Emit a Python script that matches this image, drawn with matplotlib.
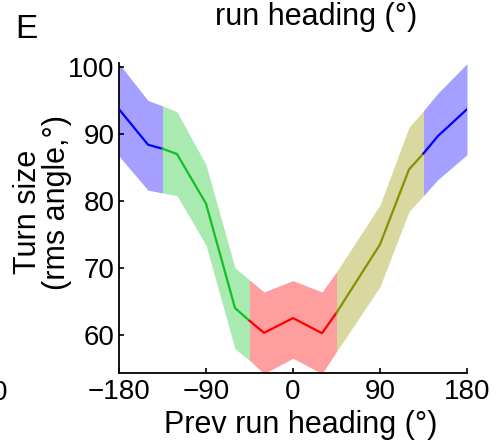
import matplotlib
matplotlib.use("Agg")
import matplotlib.pyplot as plt
import numpy as np

plt.rcParams['font.family'] = ['Liberation Sans', 'DejaVu Sans']

# Data
heading = [-180, -150, -135, -120, -90, -60, -45, -30, 0, 30, 45, 90, 120, 135, 150, 180]
turn_mean = [93.7, 88.4, 87.8, 87.0, 79.6, 64.0, 62.1, 60.3, 62.5, 60.25, 63.3, 73.5, 84.7, 87.1, 89.7, 93.7]
turn_upper = [100.5, 95.0, 94.2, 93.3, 85.4, 70.0, 68.2, 66.4, 68.1, 66.4, 69.4, 79.4, 91.0, 93.5, 96.1, 100.5]
turn_lower = [86.7, 81.6, 81.2, 80.8, 73.4, 57.9, 56.2, 54.2, 56.5, 54.2, 57.5, 67.2, 78.4, 80.8, 83.2, 86.9]

region_edges = [(-180, -135), (-135, -45), (-45, 45), (45, 135), (135, 180)]
band_colors = ['#a5a0ff', '#a8eab0', '#ff9e9e', '#d8d8a0', '#a5a0ff']
line_colors = ['#0000ff', '#11c022', '#ff0000', '#889000', '#0000ff']

xticks = [-180, -90, 0, 90, 180]
yticks = [60, 70, 80, 90, 100]

fig = plt.figure(figsize=(4.97, 4.41), dpi=100)
ax = fig.add_axes([119/497, 1 - 373/441, (467 - 119)/497, (373 - 63)/441])

x = np.array(heading)
m = np.array(turn_mean)
u = np.array(turn_upper)
l = np.array(turn_lower)
for (a, b), bc, lc in zip(region_edges, band_colors, line_colors):
    sel = (x >= a) & (x <= b)
    ax.fill_between(x[sel], l[sel], u[sel], color=bc, linewidth=0, zorder=1)
for (a, b), bc, lc in zip(region_edges, band_colors, line_colors):
    sel = (x >= a) & (x <= b)
    ax.plot(x[sel], m[sel], color=lc, linewidth=1.6, zorder=3)

ax.set_xlim(-180, 180)
ax.set_ylim(54.3, 100.6)
ax.set_xticks(xticks)
ax.set_xticklabels([('\u2212%d' % -t) if t < 0 else str(t) for t in xticks])
ax.set_yticks(yticks)
for s in ['top', 'right']:
    ax.spines[s].set_visible(False)
for s in ['left', 'bottom']:
    ax.spines[s].set_linewidth(1.3)
ax.tick_params(direction='in', length=3.5, width=1.2, labelsize=20)
ax.tick_params(axis='x', pad=4)
ax.tick_params(axis='y', pad=3)

fig.text(301/497, 1 - 433/441, 'Prev run heading (\u00b0)', ha='center', va='baseline', fontsize=22)
fig.text(28/497, 1 - 212/441, 'Turn size', rotation=90, ha='center', va='center', fontsize=22)
fig.text(57/497, 1 - 203/441, '(rms angle,\u00b0)', rotation=90, ha='center', va='center', fontsize=22)
fig.text(316/497, 1 - 25/441, 'run heading (\u00b0)', ha='center', va='baseline', fontsize=22)
fig.text(15/497, 1 - 38/441, 'E', ha='left', va='baseline', fontsize=24, family=['Liberation Sans Narrow', 'Liberation Sans'])
fig.text(8/497, 1 - 400/441, '180', ha='right', va='baseline', fontsize=20)

fig.savefig('out.png', dpi=100)
